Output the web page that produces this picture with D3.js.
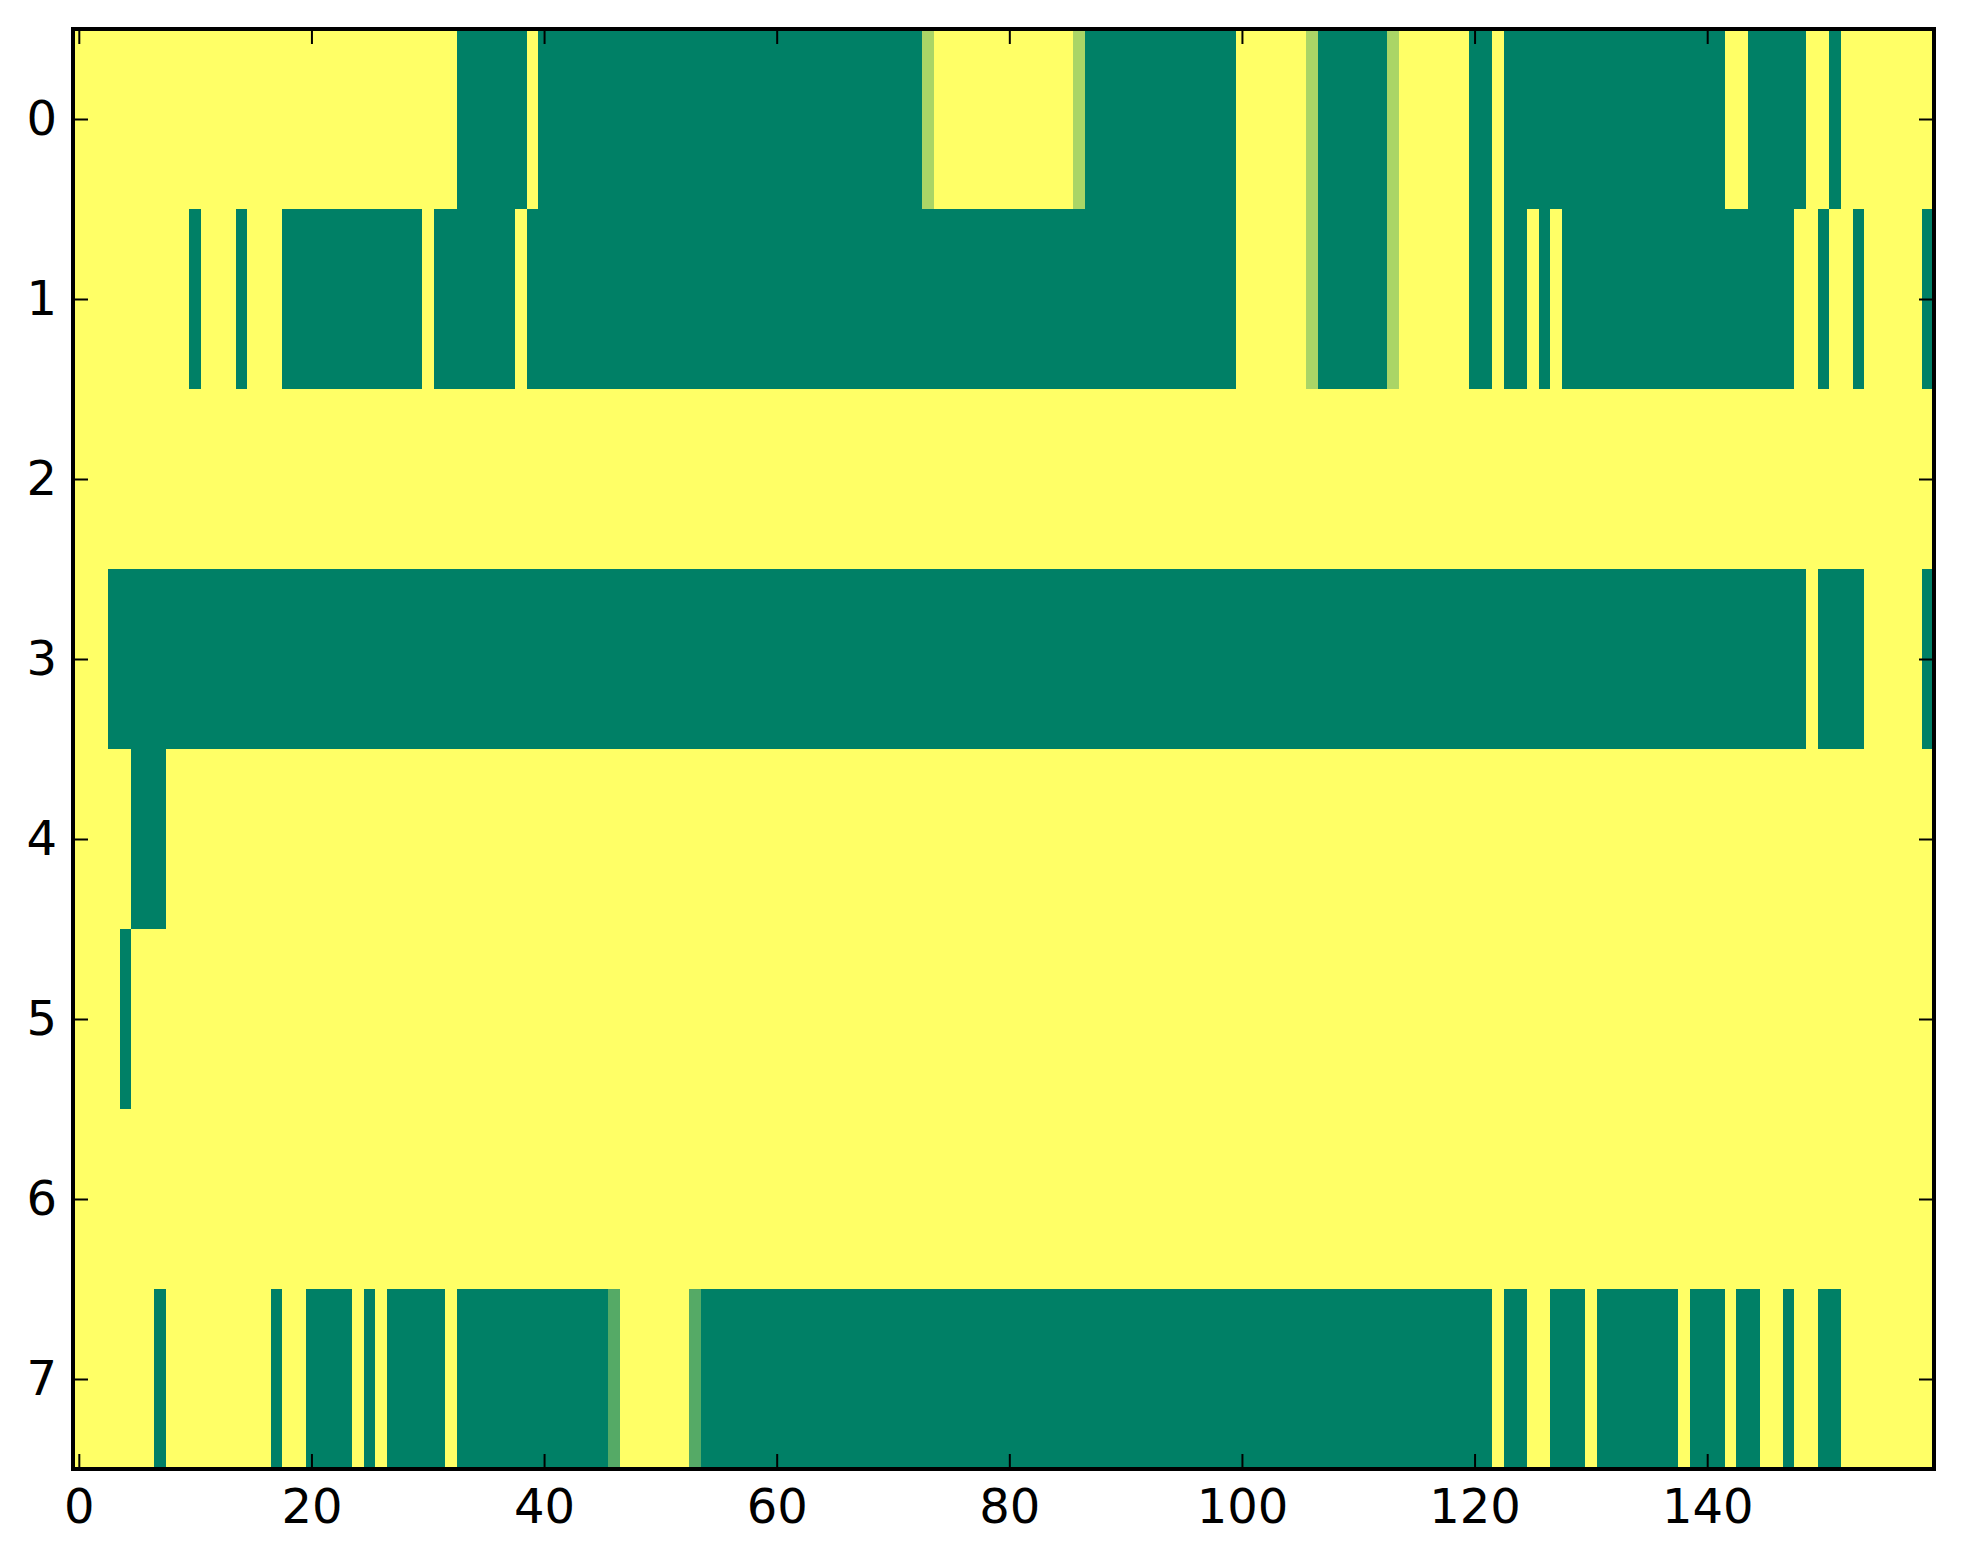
<!DOCTYPE html>
<html>
<head>
<meta charset="utf-8">
<script src="https://cdn.jsdelivr.net/npm/d3@7"></script>
<style>
  html, body { margin: 0; padding: 0; background: #ffffff; }
  svg { display: block; }
  .tick text { font-family: "DejaVu Sans", sans-serif; font-size: 48px; fill: #000; }
</style>
</head>
<body>
<script>
// Each row: runs of [value, count] read left to right (160 columns per row)
const row0 = [[1,33],[0,6],[1,1],[0,33],[0.667,1],[1,12],[0.667,1],[0,13],[1,6],[0.667,1],[0,6],[0.667,1],[1,6],[0,2],[1,1],[0,19],[1,2],[0,5],[1,2],[0,1],[1,8]];
const row1 = [[1,10],[0,1],[1,3],[0,1],[1,3],[0,12],[1,1],[0,7],[1,1],[0,61],[1,6],[0.667,1],[0,6],[0.667,1],[1,6],[0,2],[1,1],[0,2],[1,1],[0,1],[1,1],[0,20],[1,2],[0,1],[1,2],[0,1],[1,5],[0,1]];
const row2 = [[1,160]];
const row3 = [[1,3],[0,146],[1,1],[0,4],[1,5],[0,1]];
const row4 = [[1,5],[0,3],[1,152]];
const row5 = [[1,4],[0,1],[1,155]];
const row6 = [[1,160]];
const row7 = [[1,7],[0,1],[1,9],[0,1],[1,2],[0,4],[1,1],[0,1],[1,1],[0,5],[1,1],[0,13],[0.333,1],[1,6],[0.333,1],[0,68],[1,1],[0,2],[1,2],[0,3],[1,1],[0,7],[1,1],[0,3],[1,1],[0,2],[1,2],[0,1],[1,2],[0,2],[1,8]];
const rows = [row0, row1, row2, row3, row4, row5, row6, row7];

const xTicks = [0, 20, 40, 60, 80, 100, 120, 140];
const yTicks = [0, 1, 2, 3, 4, 5, 6, 7];
const nCols = 160;

(function () {
  const W = 1963, H = 1564;
  const mLeft = 73, mRight = 1934, mTop = 29, mBottom = 1469;

  const svg = d3.select("body").append("svg")
    .attr("width", W).attr("height", H);
  svg.append("rect").attr("width", W).attr("height", H).attr("fill", "#ffffff");

  const x = d3.scaleLinear().domain([-0.5, nCols - 0.5]).range([mLeft, mRight]);
  const y = d3.scaleLinear().domain([-0.5, rows.length - 0.5]).range([mTop, mBottom]);

  // matplotlib "summer" colormap
  const summer = v => d3.rgb(Math.round(255 * v), Math.round(255 * (0.5 + 0.5 * v)), Math.round(255 * 0.4)).toString();

  const segs = [];
  rows.forEach((runs, r) => {
    let start = 0;
    runs.forEach(([v, n]) => {
      segs.push({ row: r, start: start, len: n, value: v });
      start += n;
    });
  });

  svg.append("g").selectAll("rect").data(segs).join("rect")
    .attr("x", d => x(d.start - 0.5))
    .attr("y", d => y(d.row - 0.5))
    .attr("width", d => x(d.start + d.len - 0.5) - x(d.start - 0.5))
    .attr("height", d => y(d.row + 0.5) - y(d.row - 0.5))
    .attr("fill", d => summer(d.value))
    .attr("shape-rendering", "crispEdges");

  const tickLen = 15;

  const gB = svg.append("g").attr("transform", `translate(0,${mBottom})`)
    .call(d3.axisBottom(x).tickValues(xTicks).tickSizeInner(-tickLen).tickSizeOuter(0).tickPadding(20));
  const gT = svg.append("g").attr("transform", `translate(0,${mTop})`)
    .call(d3.axisTop(x).tickValues(xTicks).tickSizeInner(-tickLen).tickSizeOuter(0).tickFormat(""));
  const gL = svg.append("g").attr("transform", `translate(${mLeft},0)`)
    .call(d3.axisLeft(y).tickValues(yTicks).tickSizeInner(-tickLen).tickSizeOuter(0).tickPadding(16));
  const gR = svg.append("g").attr("transform", `translate(${mRight},0)`)
    .call(d3.axisRight(y).tickValues(yTicks).tickSizeInner(-tickLen).tickSizeOuter(0).tickFormat(""));

  [gB, gT, gL, gR].forEach(g => {
    g.select(".domain").remove();
    g.selectAll(".tick line").attr("stroke", "#000").attr("stroke-width", 2);
  });
  gB.selectAll(".tick text").attr("font-family", "DejaVu Sans").attr("font-size", 48);
  gL.selectAll(".tick text").attr("font-family", "DejaVu Sans").attr("font-size", 48);

  svg.append("rect")
    .attr("x", mLeft).attr("y", mTop)
    .attr("width", mRight - mLeft).attr("height", mBottom - mTop)
    .attr("fill", "none").attr("stroke", "#000").attr("stroke-width", 4);
})();
</script>
</body>
</html>
